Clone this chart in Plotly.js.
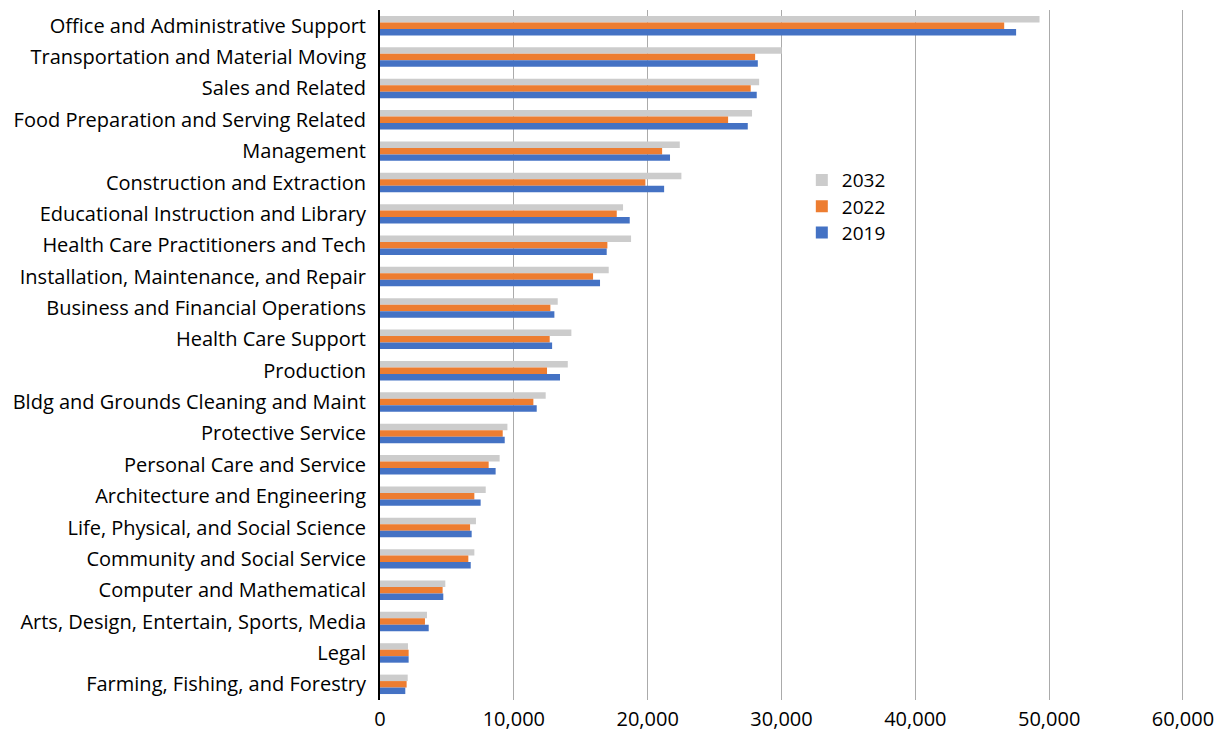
<!DOCTYPE html>
<html>
<head>
<meta charset="utf-8">
<script src="https://cdn.plot.ly/plotly-3.0.1.min.js"></script>
<style>html,body{margin:0;padding:0;background:#fff;}#chart{width:1215px;height:734px;}</style>
</head>
<body>
<div id="chart"></div>
<script>
const categories = [
  "Office and Administrative Support",
  "Transportation and Material Moving",
  "Sales and Related",
  "Food Preparation and Serving Related",
  "Management",
  "Construction and Extraction",
  "Educational Instruction and Library",
  "Health Care Practitioners and Tech",
  "Installation, Maintenance, and Repair",
  "Business and Financial Operations",
  "Health Care Support",
  "Production",
  "Bldg and Grounds Cleaning and Maint",
  "Protective Service",
  "Personal Care and Service",
  "Architecture and Engineering",
  "Life, Physical, and Social Science",
  "Community and Social Service",
  "Computer and Mathematical",
  "Arts, Design, Entertain, Sports, Media",
  "Legal",
  "Farming, Fishing, and Forestry"
];
const values2032 = [49280, 30020, 28330, 27800, 22400, 22520, 18160, 18760, 17090, 13280, 14300, 14030, 12380, 9520, 8940, 7900, 7170, 7050, 4880, 3510, 2090, 2070];
const values2022 = [46640, 28030, 27700, 26010, 21080, 19830, 17690, 16990, 15920, 12730, 12680, 12480, 11460, 9170, 8120, 7050, 6730, 6600, 4680, 3360, 2140, 1990];
const values2019 = [47530, 28230, 28150, 27480, 21670, 21230, 18660, 16940, 16440, 13030, 12860, 13450, 11710, 9320, 8640, 7520, 6850, 6780, 4730, 3640, 2140, 1890];
const seriesNames = ["2032", "2022", "2019"];
const seriesColors = ["#CCCCCC", "#ED7D31", "#4472C4"];
const seriesValues = [values2032, values2022, values2019];
const xTicks = [0, 10000, 20000, 30000, 40000, 50000, 60000];
const xTickText = ["0", "10,000", "20,000", "30,000", "40,000", "50,000", "60,000"];

const legendIds = ["legend", "legend2", "legend3"];
const legendTops = [0.781, 0.743, 0.705];

const traces = seriesNames.map((name, i) => ({
  type: "bar",
  orientation: "h",
  name: name,
  y: categories,
  x: seriesValues[i],
  legend: legendIds[i],
  marker: {color: seriesColors[i], line: {width: 0}},
  hoverinfo: "x+y+name"
}));

const layout = {
  width: 1215,
  height: 734,
  margin: {l: 380, r: 30, t: 10, b: 34, pad: 0},
  paper_bgcolor: "#ffffff",
  plot_bgcolor: "#ffffff",
  font: {family: "Open Sans, sans-serif", size: 20, color: "#000000"},
  barmode: "group",
  bargap: 0.38,
  bargroupgap: 0,
  showlegend: true,
  xaxis: {
    range: [0, 60150],
    tickvals: xTicks,
    ticktext: xTickText,
    showgrid: true,
    gridcolor: "#ABABAB",
    gridwidth: 1,
    zeroline: false,
    showline: false,
    ticks: "",
    ticklabelstandoff: 5,
    tickfont: {family: "Open Sans, sans-serif", size: 20, color: "#000"},
    fixedrange: true
  },
  yaxis: {
    type: "category",
    autorange: "reversed",
    showgrid: false,
    zeroline: false,
    showline: true,
    linecolor: "#000000",
    linewidth: 2,
    ticks: "",
    ticklabelstandoff: 8,
    tickfont: {family: "Open Sans, sans-serif", size: 20, color: "#000"},
    fixedrange: true
  }
};

legendIds.forEach((id, i) => {
  layout[id] = {
    x: 0.524, y: legendTops[i], xanchor: "left", yanchor: "top",
    bgcolor: "rgba(0,0,0,0)",
    font: {family: "Open Sans, sans-serif", size: 19, color: "#000"},
    itemwidth: 30
  };
});

Plotly.newPlot("chart", traces, layout, {displayModeBar: false, staticPlot: true});
</script>
</body>
</html>
